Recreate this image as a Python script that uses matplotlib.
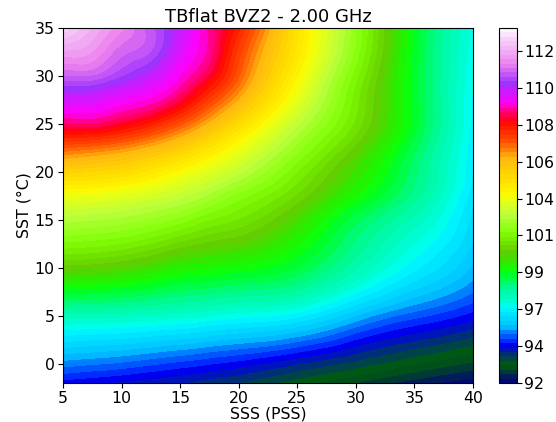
import numpy as np
import matplotlib
matplotlib.use("Agg")
import matplotlib.pyplot as plt
import matplotlib.tri as mtri

# Sea surface salinity (x) and temperature (y) grid
sss = [5, 7.5, 10, 12.5, 15, 17.5, 20, 25, 30, 35, 40]
sst = [-2, 0, 5, 10, 15, 17.5, 20, 22.5, 25, 27.5, 30, 32.5, 35]

# Flat-sea brightness temperature (K), one row per SST value
tb_sst_m2 = [94.3, 94.2, 94.1, 94.0, 93.9, 93.75, 93.6, 93.2, 92.8, 92.4, 92.1]
tb_sst_0 = [95.1, 95.0, 94.9, 94.75, 94.6, 94.45, 94.3, 93.9, 93.5, 93.1, 92.75]
tb_sst_5 = [97.3, 97.25, 97.2, 97.1, 97.0, 96.85, 96.7, 96.4, 95.5, 94.8, 94.3]
tb_sst_10 = [99.95, 99.9, 99.75, 99.5, 99.2, 99.05, 98.9, 98.45, 97.45, 96.4, 95.45]
tb_sst_15 = [102.1, 102.0, 101.88, 101.64, 101.32, 100.9, 100.6, 99.6, 98.3, 97.3, 95.95]
tb_sst_17 = [103.2, 103.14, 102.97, 102.7, 102.36, 101.89, 101.32, 100.3, 99.0, 97.8, 96.15]
tb_sst_20 = [104.8, 104.65, 104.45, 104.0, 103.45, 102.9, 102.33, 100.9, 99.5, 98.05, 96.35]
tb_sst_22 = [106.6, 106.4, 106.1, 105.6, 104.97, 104.13, 103.25, 101.6, 100.0, 98.3, 96.4]
tb_sst_25 = [108.4, 108.4, 108.05, 107.51, 106.67, 105.61, 104.45, 102.3, 100.55, 98.6, 96.5]
tb_sst_27 = [109.6, 109.56, 109.2, 108.9, 108.2, 107.0, 105.7, 103.04, 100.75, 98.6, 96.55]
tb_sst_30 = [110.85, 110.85, 110.35, 109.8, 109.0, 108.1, 106.6, 103.6, 101.0, 98.6, 96.6]
tb_sst_32 = [111.9, 111.7, 111.0, 110.6, 109.5, 108.6, 107.0, 104.04, 101.34, 98.65, 96.7]
tb_sst_35 = [113.0, 112.2, 111.5, 110.7, 109.8, 108.6, 107.5, 104.2, 101.45, 98.7, 96.75]

cbar_labels = ["92", "94", "97", "99", "101", "104", "106", "108", "110", "112"]

tb = np.array([tb_sst_m2, tb_sst_0, tb_sst_5, tb_sst_10, tb_sst_15, tb_sst_17,
               tb_sst_20, tb_sst_22, tb_sst_25, tb_sst_27, tb_sst_30,
               tb_sst_32, tb_sst_35])

X, Y = np.meshgrid(sss, sst)
tri = mtri.Triangulation(X.ravel(), Y.ravel())
interp = mtri.CubicTriInterpolator(tri, tb.ravel(), kind="min_E")
refiner = mtri.UniformTriRefiner(tri)
tri_f, tb_f = refiner.refine_field(tb.ravel(), triinterpolator=interp, subdiv=3)

vmin, vmax = 92.0, 113.6
levels = np.linspace(vmin, vmax, 81)

fig = plt.figure(figsize=(5.56, 4.22), dpi=100)
ax = fig.add_axes([0.1133, 0.0924, 0.7374, 0.8412])
cax = fig.add_axes([0.8975, 0.0924, 0.0324, 0.8412])

cs = ax.tricontourf(tri_f, np.clip(tb_f, vmin, vmax), levels=levels,
                    cmap="gist_ncar", vmin=vmin, vmax=vmax)
ax.set_xlim(5, 40)
ax.set_ylim(-2, 35)
ax.set_xticks([5, 10, 15, 20, 25, 30, 35, 40])
ax.set_yticks([0, 5, 10, 15, 20, 25, 30, 35])
ax.tick_params(labelsize=11.3, pad=2.5)
ax.set_xlabel("SSS (PSS)", fontsize=11.3, labelpad=0)
ax.set_ylabel("SST (°C)", fontsize=11.3, labelpad=2)
ax.set_title("TBflat BVZ2 - 2.00 GHz", fontsize=13, pad=4)

cb = fig.colorbar(cs, cax=cax)
step = (vmax - vmin) / 9.62
ticks = [vmin + i * step for i in range(len(cbar_labels))]
cb.set_ticks(ticks)
cb.set_ticklabels(cbar_labels)
cb.ax.tick_params(labelsize=11.3, pad=1.5, length=3.5)

fig.savefig("out.png", dpi=100)
